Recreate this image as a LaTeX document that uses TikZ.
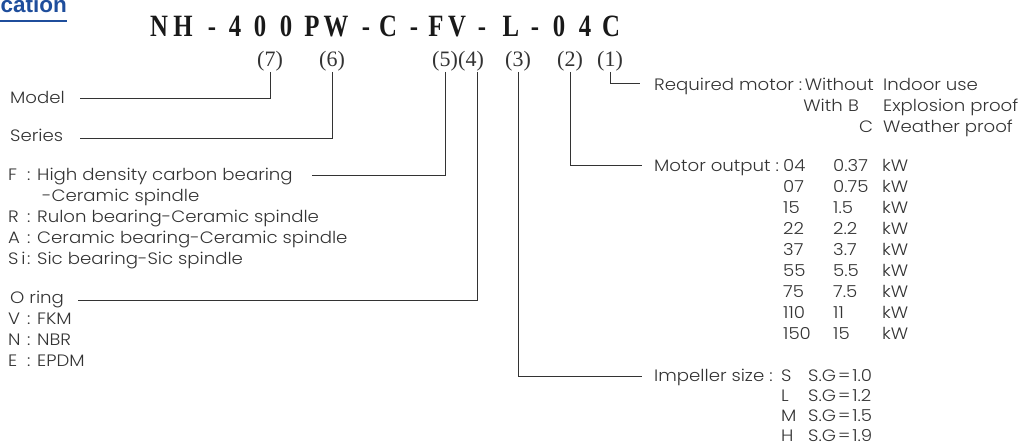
\documentclass[tikz,border=0pt]{standalone}
\usepackage{fontspec}
\IfFontExistsTF{Poppins Light}{\setmainfont{Poppins Light}[FakeStretch=1.1]}{\setmainfont{Poppins}[FakeStretch=1.1]}
\newfontfamily\codefont{Liberation Serif}
\newfontfamily\headfont{Liberation Sans}
\definecolor{txt}{HTML}{333333}
\definecolor{hblue}{HTML}{1F4E9C}
\begin{document}
\begin{tikzpicture}[x=1pt,y=-1pt,
  codech/.style={font=\codefont\bfseries\fontsize{31}{31}\selectfont, anchor=base, inner sep=0pt, text=black!90},
  num/.style={font=\codefont\fontsize{22}{22}\selectfont, anchor=base, inner sep=1pt, text=txt},
  lbl/.style={font=\fontsize{16.5}{16.5}\selectfont, anchor=base west, inner sep=0pt, text=txt},
  lble/.style={lbl, anchor=base east},
  conn/.style={draw=txt, line width=0.9pt}]
\useasboundingbox (0,0) rectangle (1027,445);
\clip (0,0) rectangle (1027,445);
% heading fragment
\node[font=\headfont\bfseries\fontsize{22.5}{22.5}\selectfont, text=hblue, anchor=base east, inner sep=0pt] (head) at (67,12.5) {cation};
\draw[draw=hblue, line width=2pt] (0,21) -- (head.east |- 0,21);
% code
\foreach \ch/\x [count=\i] in {N/159,H/183,-/212,4/235,0/260,0/286,P/312,W/336,-/366,C/388,-/414,F/436,V/457,-/482,L/511,-/535,0/559,4/585,C/611}
  \node[codech] (c\i) at (\x,36.5) {\scalebox{0.8}[1]{\ch}};
% position numbers
\node[num] (n7) at (270,66) {(7)};
\node[num] (n6) at (332,66) {(6)};
\node[num] (n5) at (445,66) {(5)};
\node[num] (n4) at (471,66) {(4)};
\node[num] (n3) at (518,66) {(3)};
\node[num] (n2) at (570,66) {(2)};
\node[num] (n1) at (610,66) {(1)};
% left texts
\node[lbl] (tModel) at (10,103) {Model};
\node[lbl] (tSeries) at (10,141) {Series};
\node[lbl] (kF) at (8,180) {F};
\node[lbl] (tF) at (27,180) {: High density carbon bearing};
\node[lbl] (tF2) at (42,201) {-Ceramic spindle};
\node[lbl] (kR) at (8,222) {R};
\node[lbl] (tR) at (27,222) {: Rulon bearing-Ceramic spindle};
\node[lbl] (kA) at (8,243) {A};
\node[lbl] (tA) at (27,243) {: Ceramic bearing-Ceramic spindle};
\node[lbl] (kS) at (8,264) {S\,i};
\node[lbl] (tS) at (27,264) {: Sic bearing-Sic spindle};
\node[lbl] (tO) at (10,303) {O ring};
\node[lbl] (kV) at (8,324) {V};
\node[lbl] (tV) at (27,324) {: FKM};
\node[lbl] (kN) at (8,345) {N};
\node[lbl] (tN) at (27,345) {: NBR};
\node[lbl] (kE) at (8,366) {E};
\node[lbl] (tE) at (27,366) {: EPDM};
% right texts: required motor
\node[lbl] (tReq) at (654,90) {Required motor :};
\node[lble] (rq1) at (874,90) {Without};
\node[lbl] (rq2) at (883,90) {Indoor use};
\node[lble] (rq3) at (843,111) {With};
\node[lbl] (rq4) at (848,111) {B};
\node[lbl] (rq5) at (883,111) {Explosion proof};
\node[lbl] (rq6) at (859,132) {C};
\node[lbl] (rq7) at (883,132) {Weather proof};
% motor output
\node[lbl] (tMot) at (654,171) {Motor output :};
\foreach \c/\v [count=\i] in {04/0.37,07/0.75,15/1.5,22/2.2,37/3.7,55/5.5,75/7.5,110/11,150/15} {
  \node[lbl] (mc\i) at (783,171+21*\i-21) {\c};
  \node[lbl] (mv\i) at (833,171+21*\i-21) {\v};
  \node[lbl] (mu\i) at (882,171+21*\i-21) {kW};
}
% impeller
\node[lbl] (tImp) at (654,381) {Impeller size :};
\foreach \c/\v/\y [count=\i] in {S/1.0/381,L/1.2/401.5,M/1.5/421.5,H/1.9/441} {
  \node[lbl] (ic\i) at (781,\y) {\c};
  \node[lbl] (iv\i) at (808,\y) {S.G\hspace{2pt}=\hspace{2pt}\v};
}
% connector ends
\coordinate (eModel) at (80,98);
\coordinate (eSeries) at (80,138);
\coordinate (eF) at (312,175);
\coordinate (eO) at (78,300);
\coordinate (eImp) at (642,376);
\coordinate (eMot) at (642,165);
\coordinate (eReq) at (640,83);
\draw[conn] (n7.south) |- (eModel);
\draw[conn] (n6.south) |- (eSeries);
\draw[conn] (n5.south) |- (eF);
\draw[conn] ([xshift=6pt]n4.south) |- (eO);
\draw[conn] (n3.south) |- (eImp);
\draw[conn] (n2.south) |- (eMot);
\draw[conn] (n1.south) |- (eReq);
\end{tikzpicture}
\end{document}
